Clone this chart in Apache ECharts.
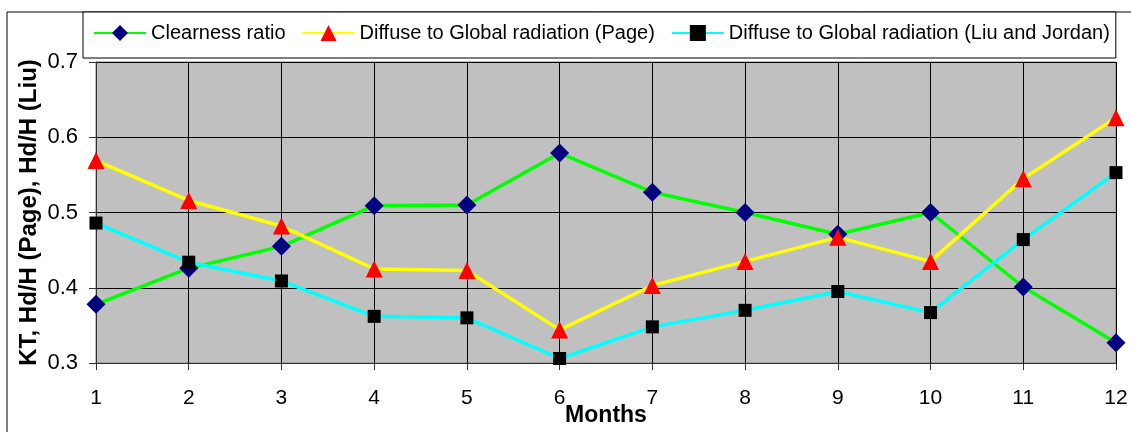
<!DOCTYPE html>
<html><head><meta charset="utf-8">
<script src="https://cdn.jsdelivr.net/npm/echarts@6/dist/echarts.min.js"></script>
<style>html,body{margin:0;padding:0;background:#fff}#c{width:1131px;height:432px}</style>
</head><body><div id="c"></div>
<script>
const months = ['1','2','3','4','5','6','7','8','9','10','11','12'];
const clearness = [0.378,0.426,0.455,0.509,0.510,0.579,0.527,0.500,0.471,0.500,0.401,0.327];
const pageRatio = [0.569,0.516,0.482,0.425,0.423,0.344,0.403,0.435,0.467,0.435,0.545,0.626];
const liuJordan = [0.486,0.434,0.409,0.362,0.360,0.306,0.348,0.370,0.395,0.367,0.464,0.553];
const seriesNames = ['Clearness ratio','Diffuse to Global radiation (Page)','Diffuse to Global radiation (Liu and Jordan)'];
const yTicks = [0.3,0.4,0.5,0.6,0.7];

const FONT = '"Liberation Sans", Arial, sans-serif';
const chart = echarts.init(document.getElementById('c'), null, {renderer:'canvas'});
chart.setOption({
  animation:false,
  textStyle:{fontFamily:FONT},
  graphic:[{type:'rect', z:-10, shape:{x:7,y:12,width:1300,height:600}, style:{fill:'#fff',stroke:'#000',lineWidth:1}}],
  legend:{
    left:83, top:12, width:1032,
    backgroundColor:'#fff', borderColor:'#000', borderWidth:1,
    padding:[11,6,15,10],
    itemWidth:52, itemHeight:20, itemGap:16,
    textStyle:{fontSize:20, color:'#000', fontFamily:FONT},
    data:seriesNames
  },
  grid:{left:96, right:15, top:62, bottom:69, containLabel:false, outerBoundsMode:'none',
        show:true, backgroundColor:'#C0C0C0', borderColor:'#808080', borderWidth:1},
  xAxis:{
    type:'category', data:months, boundaryGap:false,
    name:'Months', nameLocation:'middle', nameGap:41, nameMoveOverlap:false,
    nameTextStyle:{fontSize:23, fontWeight:'bold', color:'#000', fontFamily:FONT},
    axisLine:{lineStyle:{color:'#333', width:1}},
    axisTick:{show:true, length:7, lineStyle:{color:'#333'}},
    axisLabel:{fontSize:21, color:'#000', margin:25, fontFamily:FONT},
    splitLine:{show:true, lineStyle:{color:'#000', width:1}}
  },
  yAxis:{
    type:'value', min:yTicks[0], max:yTicks[yTicks.length-1], interval:0.1,
    name:'KT, Hd/H (Page), Hd/H (Liu)', nameLocation:'middle', nameGap:55, nameMoveOverlap:false,
    nameTextStyle:{fontSize:24, fontWeight:'bold', color:'#000', fontFamily:FONT},
    axisLine:{show:true, lineStyle:{color:'#333', width:1}},
    axisTick:{show:true, length:7, lineStyle:{color:'#333'}},
    axisLabel:{fontSize:22, color:'#000', margin:18, fontFamily:FONT, formatter:v=>v.toFixed(1)},
    splitLine:{show:true, lineStyle:{color:'#000', width:1}}
  },
  series:[
    {name:seriesNames[0], type:'line', data:clearness, symbol:'diamond', symbolSize:19,
     lineStyle:{color:'#00FF00', width:3.5}, itemStyle:{color:'#000080'}},
    {name:seriesNames[1], type:'line', data:pageRatio, symbol:'triangle', symbolSize:17,
     lineStyle:{color:'#FFFF00', width:3.5}, itemStyle:{color:'#FF0000'}},
    {name:seriesNames[2], type:'line', data:liuJordan, symbol:'rect', symbolSize:13,
     lineStyle:{color:'#00FFFF', width:3.5}, itemStyle:{color:'#000000'}}
  ]
});
</script></body></html>
